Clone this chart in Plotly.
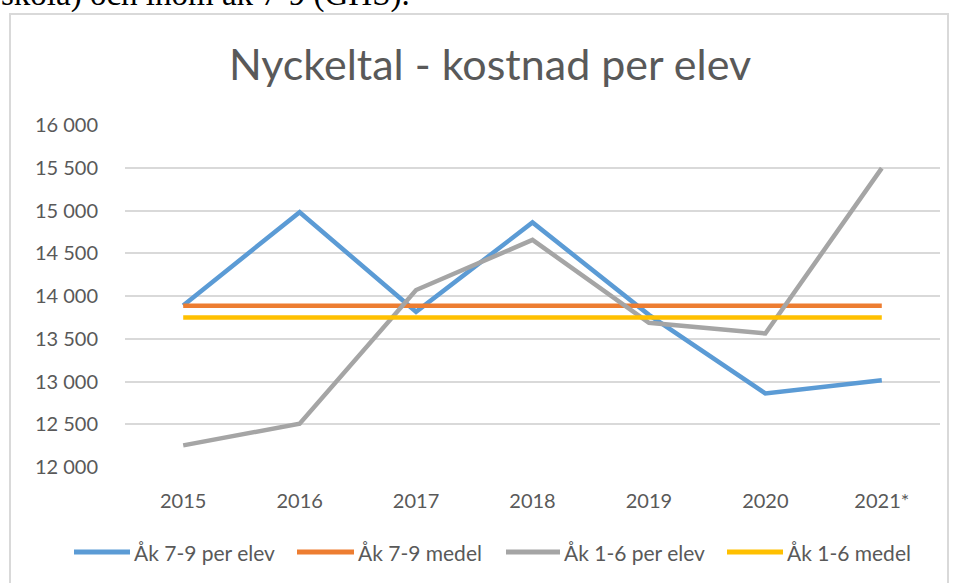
import plotly.graph_objects as go

years = ["2015", "2016", "2017", "2018", "2019", "2020", "2021*"]
ak79_per_elev = [13890, 14980, 13815, 14860, 13780, 12860, 13015]
ak79_medel = [13886, 13886, 13886, 13886, 13886, 13886, 13886]
ak16_per_elev = [12253, 12507, 14070, 14656, 13687, 13562, 15496]
ak16_medel = [13750, 13750, 13750, 13750, 13750, 13750, 13750]
yticks = [12000, 12500, 13000, 13500, 14000, 14500, 15000, 15500, 16000]

names = ["Åk 7-9 per elev", "Åk 7-9 medel", "Åk 1-6 per elev", "Åk 1-6 medel"]
colors = ["#5B9BD5", "#ED7D31", "#A5A5A5", "#FFC000"]
series = [ak79_per_elev, ak79_medel, ak16_per_elev, ak16_medel]

FONT = "Lato"
TXT = "#595959"

fig = go.Figure()
for n, c, s in zip(names, colors, series):
    fig.add_trace(go.Scatter(x=years, y=s, name=n, mode="lines",
                             line=dict(color=c, width=4.5), showlegend=False))

W, H = 959, 583
L, R, T, B = 125, 19, 125, 116
pw, ph = W - L - R, H - T - B


def px2x(p):
    return (p - L) / pw


def py2y(p):
    return (H - B - p) / ph


# legend layout (pixel positions of the key lines)
legend_keys = [(74, 130), (297, 354), (506, 560), (727, 783)]
legend_y = 552

shapes = [dict(type="rect", xref="paper", yref="paper",
               x0=px2x(10), x1=px2x(948), y0=py2y(600), y1=py2y(14),
               line=dict(color="#D9D9D9", width=2), fillcolor="rgba(0,0,0,0)",
               layer="below")]
annotations = [dict(text="skola) och inom åk 7-9 (GHS).", xref="paper",
                    yref="paper", x=px2x(-1), xanchor="left",
                    y=py2y(15), yanchor="bottom", showarrow=False,
                    font=dict(family="Liberation Serif", size=33,
                              color="#000000"))]
for (k0, k1), n, c in zip(legend_keys, names, colors):
    shapes.append(dict(type="line", xref="paper", yref="paper",
                       x0=px2x(k0), x1=px2x(k1), y0=py2y(legend_y), y1=py2y(legend_y),
                       line=dict(color=c, width=5)))
    annotations.append(dict(text=n, xref="paper", yref="paper",
                            x=px2x(k1 + 2), xanchor="left",
                            y=py2y(legend_y), yanchor="middle", showarrow=False,
                            font=dict(family=FONT, size=21, color=TXT)))

fig.update_layout(
    width=W, height=H,
    margin=dict(l=L, r=R, t=T, b=B),
    paper_bgcolor="white", plot_bgcolor="white",
    separators=", ",
    title=dict(text="Nyckeltal - kostnad per elev", x=px2x(490), xref="paper",
               xanchor="center", y=1 - 65 / H, yanchor="middle",
               font=dict(family=FONT, size=43, color=TXT)),
    xaxis=dict(type="category", range=[-0.5, 6.5], showgrid=False,
               showline=False, zeroline=False, ticks="",
               tickfont=dict(family=FONT, size=20, color=TXT),
               ticklabelstandoff=20),
    yaxis=dict(range=[12000, 16000], tickvals=yticks, tickformat=",d",
               showgrid=True, gridcolor="#D9D9D9", gridwidth=1.5,
               zeroline=False, showline=False, ticks="",
               tickfont=dict(family=FONT, size=20, color=TXT),
               ticklabelstandoff=26),
    showlegend=False,
    shapes=shapes,
    annotations=annotations,
)

fig.write_html("out.html", config={"displayModeBar": False},
               post_script="document.body.style.margin='0';")
